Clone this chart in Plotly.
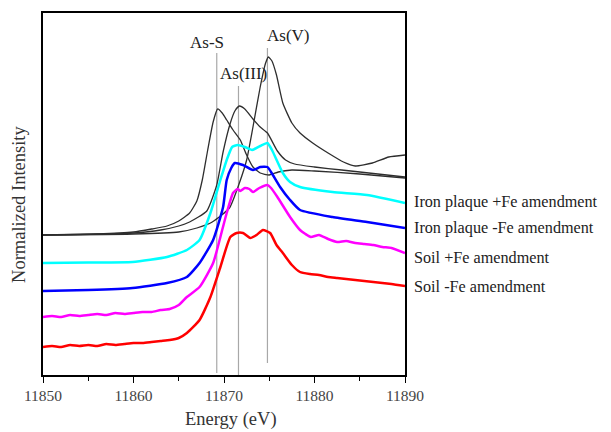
import plotly.graph_objects as go

# ---------------- data ----------------
# Reference spectra (black)
e_ass = [11850, 11856, 11860, 11862, 11863.7, 11865, 11866.2, 11867, 11867.6, 11868.2, 11868.8, 11869.3,
         11869.8, 11870.3, 11871, 11871.8, 11872.5, 11873.2, 11874, 11875, 11876, 11877.5, 11880, 11885, 11890]
i_ass = [1.40, 1.41, 1.43, 1.46, 1.49, 1.54, 1.62, 1.74, 1.95, 2.25, 2.53, 2.66,
         2.62, 2.55, 2.45, 2.35, 2.20, 2.08, 2.02, 2.00, 2.03, 2.05, 2.04, 2.01, 1.97]

e_as3 = [11850, 11856, 11860, 11863, 11865, 11866.2, 11868.1, 11869.2, 11869.9, 11870.7, 11871.2, 11871.7,
         11872.3, 11873.2, 11874, 11874.8, 11875.9, 11876.8, 11877.8, 11880, 11883, 11886, 11890]
i_as3 = [1.40, 1.41, 1.42, 1.45, 1.49, 1.53, 1.64, 1.90, 2.23, 2.52, 2.64, 2.69,
         2.66, 2.56, 2.48, 2.42, 2.24, 2.15, 2.11, 2.08, 2.05, 2.02, 1.98]

e_as5 = [11850, 11860, 11865, 11867, 11868.7, 11870.6, 11871.7, 11872.5, 11873.2, 11874, 11874.6, 11874.9,
         11875.3, 11875.8, 11876.5, 11877.5, 11878.4, 11879.8, 11881.5, 11883.2, 11884.5, 11886.4, 11888.2, 11890]
i_as5 = [1.40, 1.41, 1.43, 1.47, 1.53, 1.67, 1.92, 2.15, 2.48, 2.88, 3.12, 3.18,
         3.14, 3.00, 2.72, 2.52, 2.42, 2.32, 2.22, 2.13, 2.09, 2.12, 2.18, 2.20]

# Samples (coloured, vertically offset)
e_ipp = [11850, 11855, 11859.9, 11863.7, 11865.9, 11867.3, 11868.5, 11869.6, 11870.3, 11870.9, 11871.5, 11872.3,
         11873.1, 11874, 11874.8, 11875.3, 11876.5, 11877.3, 11878.4, 11882, 11885.8, 11890]
i_ipp = [1.12, 1.125, 1.13, 1.18, 1.25, 1.35, 1.62, 1.95, 2.15, 2.28, 2.30, 2.28,
         2.25, 2.29, 2.32, 2.25, 2.02, 1.93, 1.88, 1.83, 1.80, 1.72]

e_ipm = [11850, 11855, 11859.9, 11863.7, 11865.9, 11867.3, 11868.8, 11869.9, 11870.3, 11870.8, 11871.2, 11872.1,
         11873.2, 11874, 11874.8, 11875.4, 11876.2, 11877.3, 11878.4, 11882, 11885.8, 11890]
i_ipm = [0.84, 0.85, 0.87, 0.92, 0.98, 1.12, 1.35, 1.68, 1.95, 2.07, 2.12, 2.10,
         2.05, 2.08, 2.08, 2.00, 1.88, 1.75, 1.65, 1.58, 1.53, 1.47]

e_sp = [11850, 11851, 11852, 11853, 11854, 11855, 11856, 11857, 11858, 11859, 11860, 11861, 11862, 11863,
        11864, 11865, 11865.9, 11867.3, 11868.8, 11869.8, 11870.3, 11871, 11871.5, 11871.8, 11872.3, 11872.8,
        11873.2, 11873.9, 11874.8, 11875.2, 11875.9, 11877.3, 11878.4, 11879, 11879.6, 11880.5, 11881.5,
        11882.5, 11883.5, 11884.5, 11885.5, 11886.5, 11887.5, 11888.5, 11890]
i_sp = [0.58, 0.59, 0.58, 0.60, 0.59, 0.60, 0.61, 0.60, 0.62, 0.61, 0.62, 0.63, 0.63, 0.65,
        0.66, 0.70, 0.78, 0.88, 1.12, 1.45, 1.62, 1.82, 1.86, 1.84, 1.87, 1.86,
        1.83, 1.87, 1.90, 1.87, 1.78, 1.58, 1.45, 1.41, 1.38, 1.40, 1.36,
        1.33, 1.34, 1.32, 1.31, 1.30, 1.28, 1.27, 1.22]

e_sm = [11850, 11851, 11852, 11853, 11854, 11855, 11856, 11857, 11858, 11859, 11860, 11861, 11862, 11863,
        11864, 11865, 11865.9, 11867.3, 11868.5, 11869.6, 11870.7, 11871.4, 11872.1, 11872.9, 11873.6, 11874.3,
        11875.1, 11875.8, 11876.5, 11877.5, 11878.4, 11879.5, 11880.5, 11881.5, 11882.5, 11883.5, 11884.5,
        11885.5, 11886.5, 11887.5, 11888.5, 11890]
i_sm = [0.28, 0.29, 0.28, 0.30, 0.29, 0.30, 0.29, 0.31, 0.30, 0.31, 0.32, 0.32, 0.33, 0.34,
        0.35, 0.37, 0.42, 0.55, 0.78, 1.08, 1.38, 1.42, 1.42, 1.37, 1.40, 1.45,
        1.42, 1.30, 1.22, 1.10, 1.03, 1.01, 1.00, 0.98, 0.97, 0.96, 0.95,
        0.94, 0.93, 0.92, 0.91, 0.89]

sample_names = ["Iron plaque +Fe amendment", "Iron plaque -Fe amendment",
                "Soil +Fe amendment", "Soil -Fe amendment"]
sample_colors = ["#00FFFF", "#0000FF", "#FF00FF", "#FF0000"]
label_y = [1.73, 1.47, 1.17, 0.88]

# Reference energy markers
ref_names = ["As-S", "As(III)", "As(V)"]
ref_energy = [11869.2, 11871.6, 11874.8]
ref_top = [3.22, 2.89, 3.27]
ref_bottom = [0.02, 0.0, 0.12]
ref_label_x = [11868.1, 11872.1, 11877.1]
ref_label_y = [3.33, 3.02, 3.40]

x_ticks = [11850, 11860, 11870, 11880, 11890]

# ---------------- figure ----------------
fig = go.Figure()
FONT = "Liberation Serif, Times New Roman, serif"

for e, v in zip(ref_energy, zip(ref_bottom, ref_top)):
    fig.add_trace(go.Scatter(x=[e, e], y=list(v), mode="lines",
                             line=dict(color="#a8a8a8", width=1.2), showlegend=False, hoverinfo="skip"))

for ex, iy in [(e_ass, i_ass), (e_as3, i_as3), (e_as5, i_as5)]:
    fig.add_trace(go.Scatter(x=ex, y=iy, mode="lines", line=dict(color="#2e2e2e", width=1.3, shape="spline", smoothing=0.5),
                             showlegend=False))

for (ex, iy), name, col in zip([(e_ipp, i_ipp), (e_ipm, i_ipm), (e_sp, i_sp), (e_sm, i_sm)],
                               sample_names, sample_colors):
    fig.add_trace(go.Scatter(x=ex, y=iy, mode="lines", name=name,
                             line=dict(color=col, width=2.5, shape="spline", smoothing=0.5),
                             showlegend=False))

for name, lx, ly in zip(ref_names, ref_label_x, ref_label_y):
    fig.add_annotation(x=lx, y=ly, text=name, showarrow=False, xref="x", yref="y",
                       font=dict(family=FONT, size=17, color="#222"))

for name, ly in zip(sample_names, label_y):
    fig.add_annotation(x=1.02, xref="paper", y=ly, yref="y", text=name, showarrow=False,
                       xanchor="left", yanchor="middle", font=dict(family=FONT, size=16.2, color="#222"))

fig.add_annotation(x=0.52, xref="paper", y=-0.124, yref="paper", text="Energy (eV)", showarrow=False,
                   yanchor="middle", font=dict(family=FONT, size=18.5, color="#333"))
fig.add_annotation(x=-0.066, xref="paper", y=0.47, yref="paper", text="Normalized Intensity", showarrow=False,
                   textangle=-90, xanchor="center", font=dict(family=FONT, size=18.5, color="#333"))

fig.update_xaxes(range=[11850, 11890], tickvals=x_ticks, ticktext=[str(t) for t in x_ticks],
                 automargin=False, ticks="outside", ticklen=6, tickwidth=1.3,
                 tickcolor="black", showline=True, linecolor="black", linewidth=1.5, mirror=True,
                 showgrid=False, zeroline=False,
                 tickfont=dict(family=FONT, size=15.5, color="#444"),
                 minor=dict(tickvals=[11855, 11865, 11875, 11885], ticks="outside", ticklen=4,
                            tickcolor="black", tickwidth=1.2))
fig.update_yaxes(range=[0, 3.62], showticklabels=False, ticks="", showline=True, linecolor="black",
                 linewidth=1.5, mirror=True, showgrid=False, zeroline=False, automargin=False)

# page body has an 8px margin, so the figure is shrunk and shifted to keep the plot box in place
fig.update_layout(width=603, height=424, margin=dict(l=35, r=206, t=5, b=57),
                  plot_bgcolor="white", paper_bgcolor="white", showlegend=False)

fig.write_html("out.html")
